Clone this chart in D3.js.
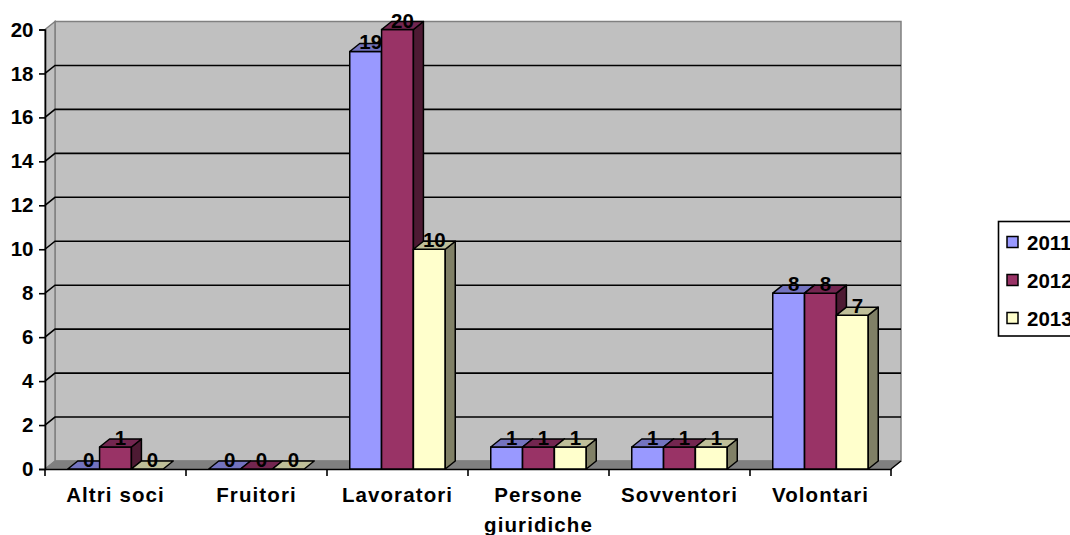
<!DOCTYPE html>
<html>
<head>
<meta charset="utf-8">
<script src="https://cdn.jsdelivr.net/npm/d3@7/dist/d3.min.js"></script>
<style>
html,body{margin:0;padding:0;background:#fff;overflow:hidden}
svg{display:block}
text{font-family:"Liberation Sans",Arial,sans-serif;font-weight:bold;fill:#000}
</style>
</head>
<body>
<svg id="chart" width="1070" height="535"></svg>
<script>
const categories = ["Altri soci", "Fruitori", "Lavoratori", "Persone giuridiche", "Sovventori", "Volontari"];
const years = ["2011", "2012", "2013"];
const values2011 = [0, 0, 19, 1, 1, 8];
const values2012 = [1, 0, 20, 1, 1, 8];
const values2013 = [0, 0, 10, 1, 1, 7];
const yTicks = [0, 2, 4, 6, 8, 10, 12, 14, 16, 18, 20];
const faceColors = ["#9999ff", "#993366", "#ffffcc"];
const topColors = ["#7373bf", "#732650", "#bfbf99"];
const sideColors = ["#4d4d80", "#4d1a33", "#808066"];

const series = [values2011, values2012, values2013];
const depthX = 10, depthY = 8;
const svg = d3.select("#chart");

const x = d3.scaleBand().domain(categories).range([45, 891]);
const y = d3.scaleLinear().domain([0, 20]).range([469, 29.5]);
const inner = d3.scaleBand().domain(d3.range(3)).range([0, 95.5]);
const poly = pts => pts.map(p => p.join(",")).join(" ");

// Walls and floor of the 3D plot box
const x0 = x.range()[0], x1 = x.range()[1], yB = y(0), yT = y(20);
const box = svg.append("g");
box.append("polygon")
  .attr("points", poly([[x0 + depthX, yT - depthY], [x1 + depthX, yT - depthY], [x1 + depthX, yB - depthY], [x0 + depthX, yB - depthY]]))
  .attr("fill", "#c0c0c0").attr("stroke", "#808080").attr("stroke-width", 1.5);
box.append("polygon")
  .attr("points", poly([[x0, yT], [x0 + depthX, yT - depthY], [x0 + depthX, yB - depthY], [x0, yB]]))
  .attr("fill", "#c0c0c0").attr("stroke", "#808080").attr("stroke-width", 1.5);
box.append("polygon")
  .attr("points", poly([[x0, yB], [x0 + depthX, yB - depthY], [x1 + depthX, yB - depthY], [x1, yB]]))
  .attr("fill", "#808080").attr("stroke", "#808080");

// Gridlines run along the side wall and across the back wall
yTicks.filter(t => t > 0 && t < 20).forEach(t => {
  box.append("polyline")
    .attr("points", poly([[x0, y(t)], [x0 + depthX, y(t) - depthY], [x1 + depthX, y(t) - depthY]]))
    .attr("fill", "none").attr("stroke", "#000").attr("stroke-width", 1.6);
});

// Axes
const yAxis = d3.axisLeft(y).tickValues(yTicks).tickSize(6).tickPadding(5.5);
const yG = svg.append("g").attr("transform", `translate(${x0},0)`).call(yAxis);
yG.selectAll("path,line").attr("stroke", "#000").attr("stroke-width", 1.6);
yG.selectAll("text").style("font-size", "20.5px").style("font-family", '"Liberation Sans",Arial,sans-serif').style("font-weight", "bold");

const xAxis = d3.axisBottom(x).tickSizeInner(0).tickSizeOuter(0).tickFormat("");
const xG = svg.append("g").attr("transform", `translate(0,${yB})`).call(xAxis);
xG.select("path").attr("stroke", "#000").attr("stroke-width", 1.6);
xG.selectAll("g.tick").remove();
xG.selectAll("line.sep")
  .data(categories.map(c => x(c)).concat([x1]))
  .join("line").attr("class", "sep")
  .attr("x1", d => d).attr("x2", d => d).attr("y1", 0).attr("y2", 7)
  .attr("stroke", "#000").attr("stroke-width", 1.6);

// Side notch on the far end of the floor
box.append("line")
  .attr("x1", x1).attr("y1", yB).attr("x2", x1 + depthX).attr("y2", yB - depthY)
  .attr("stroke", "#000").attr("stroke-width", 1.4);

// Category labels, with the long one wrapped over two lines
const catLabels = svg.append("g");
categories.forEach(c => {
  const cx = x(c) + x.bandwidth() / 2;
  const words = c === "Persone giuridiche" ? c.split(" ") : [c];
  const t = catLabels.append("text").attr("text-anchor", "middle").style("font-size", "20.5px").style("letter-spacing", "1.1px");
  words.forEach((w, i) => t.append("tspan").attr("x", cx).attr("y", 502 + i * 29.5).text(w));
});

// Bars: drawn group by group, left to right within each group
const bars = svg.append("g").attr("stroke", "#000").attr("stroke-width", 1.5).attr("stroke-linejoin", "round");
const labels = [];
categories.forEach((c, ci) => {
  const gx = x(c) + (x.bandwidth() - inner.range()[1]) / 2;
  series.forEach((vals, si) => {
    const v = vals[ci];
    const l = gx + inner(si), r = l + inner.bandwidth();
    const top = y(v), bot = y(0);
    if (v > 0) {
      bars.append("rect").attr("x", l).attr("y", top).attr("width", r - l).attr("height", bot - top).attr("fill", faceColors[si]);
      bars.append("polygon")
        .attr("points", poly([[r, top], [r + depthX, top - depthY], [r + depthX, bot - depthY], [r, bot]]))
        .attr("fill", sideColors[si]);
    }
    bars.append("polygon")
      .attr("points", poly([[l, top], [l + depthX, top - depthY], [r + depthX, top - depthY], [r, top]]))
      .attr("fill", topColors[si]);
    labels.push({ x: (l + r) / 2 + depthX / 2, y: top - 2, v });
  });
});

// Value labels sit above everything else
svg.append("g").selectAll("text").data(labels).join("text")
  .attr("x", d => d.x).attr("y", d => d.y)
  .attr("text-anchor", "middle").style("font-size", "20.5px")
  .text(d => d.v);

// Legend, cut off by the right edge of the page
const legend = svg.append("g");
legend.append("rect").attr("x", 998.5).attr("y", 221.5).attr("width", 100).attr("height", 114.5)
  .attr("fill", "#fff").attr("stroke", "#000").attr("stroke-width", 1.6);
const legendY = d3.scalePoint().domain(years).range([242, 318]);
years.forEach((yr, i) => {
  legend.append("rect").attr("x", 1007).attr("y", legendY(yr) - 5.5).attr("width", 11).attr("height", 11)
    .attr("fill", faceColors[i]).attr("stroke", "#000").attr("stroke-width", 1.5);
  legend.append("text").attr("x", 1027).attr("y", legendY(yr) + 7.5).style("font-size", "20.5px").text(yr);
});
</script>
</body>
</html>
